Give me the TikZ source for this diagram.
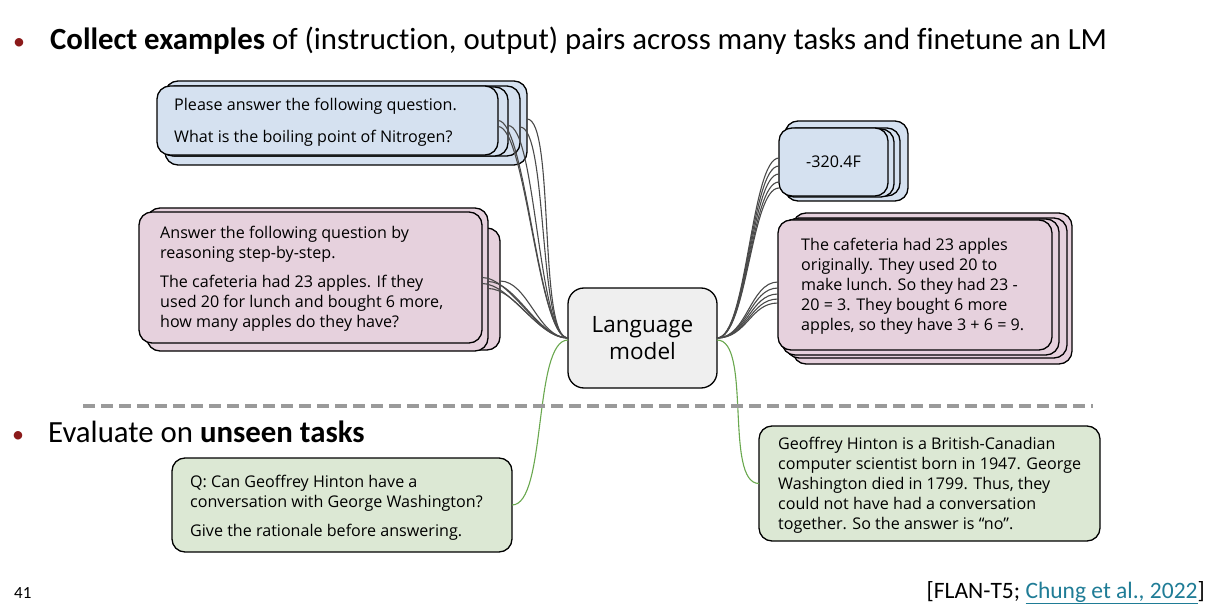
\documentclass[tikz,border=0pt]{standalone}
\usepackage{fontspec}
\setmainfont{Carlito}[Ligatures=NoCommon]
\newfontfamily\boxfont{Open Sans}
\usetikzlibrary{calc}
\definecolor{bulletred}{HTML}{8B1A1A}
\definecolor{bluefill}{HTML}{D5E1F0}
\definecolor{pinkfill}{HTML}{E6D1DD}
\definecolor{greenfill}{HTML}{DCE8D4}
\definecolor{lmfill}{HTML}{EFEFEF}
\definecolor{conngray}{HTML}{4A4A4A}
\definecolor{conngreen}{HTML}{6AA84F}
\definecolor{dashgray}{HTML}{9A9A9A}
\definecolor{linkteal}{HTML}{1F7C96}
\tikzset{
  layer/.style={draw=black, line width=1.3pt, rounded corners=13pt, inner sep=0pt, outer sep=0pt, anchor=north west},
  bluelayer/.style={layer, fill=bluefill},
  pinklayer/.style={layer, fill=pinkfill},
  greenlayer/.style={layer, fill=greenfill},
  boxtext/.style={inner sep=0pt, align=left, anchor=west, font=\boxfont\fontsize{16.1}{20}\selectfont},
  conn/.style={draw=conngray, line width=1.1pt},
  gconn/.style={draw=conngreen, line width=1.1pt},
  slidetext/.style={inner sep=0pt, anchor=base west, font=\fontsize{30.8}{34}\selectfont},
  bulletmark/.style={inner sep=0pt, anchor=base, text=bulletred, font=\fontsize{24}{28}\selectfont},
}
\begin{document}
\begin{tikzpicture}[x=1pt,y=-1pt]
\useasboundingbox (0,0) rectangle (1217,612);
% title bullets
\node[bulletmark] (bul1) at (19,50) {•};
\node[slidetext] (title) at (50,50) {\textbf{Collect examples} of (instruction, output) pairs across many tasks and finetune an LM};
\node[bulletmark] (bul2) at (18,442) {•};
\node[slidetext] (eval) at (48,442) {Evaluate on \textbf{unseen tasks}};

% dashed separator ends
\coordinate (dashL) at (83,406);
\coordinate (dashR) at (1093,406);

% language model
\node[layer, fill=lmfill, rounded corners=16pt, minimum width=149pt, minimum height=100pt] (lm) at (568,288) {};
\node[inner sep=0pt, align=center, font=\boxfont\fontsize{22.5}{27.5}\selectfont] (lmtext) at (lm.center) {Language\\model};

% left blue stack
\node[bluelayer, minimum width=362pt, minimum height=84pt] (b0) at (165,81) {};
\node[bluelayer, minimum width=358pt, minimum height=70pt] (b1) at (162,86) {};
\node[bluelayer, minimum width=348pt, minimum height=69pt] (b2) at (160,87) {};
\node[bluelayer, minimum width=341pt, minimum height=69pt] (b3) at (157,86) {};
\node[boxtext] (btext) at ($(b3.west)+(17,2)$) {Please answer the following question.\\[12pt]What is the boiling point of Nitrogen?};

% left pink stack
\node[pinklayer, minimum width=352pt, minimum height=122pt] (p0) at (148,228) {};
\node[pinklayer, minimum width=341pt, minimum height=143pt] (p1) at (147,208) {};
\node[pinklayer, minimum width=343pt, minimum height=131pt] (p2) at (139,212) {};
\node[boxtext] (ptext) at ($(p2.west)+(21,1.5)$) {Answer the following question by\\reasoning step-by-step.\\[9pt]The cafeteria had 23 apples. If they\\used 20 for lunch and bought 6 more,\\how many apples do they have?};

% right blue stack
\node[bluelayer, minimum width=123pt, minimum height=80pt] (r0) at (785,121) {};
\node[bluelayer, minimum width=117pt, minimum height=68pt] (r1) at (783,128) {};
\node[bluelayer, minimum width=113pt, minimum height=68pt] (r2) at (781,129) {};
\node[bluelayer, minimum width=109pt, minimum height=68pt] (r3) at (779,128) {};
\node[inner sep=0pt, font=\boxfont\fontsize{16.1}{20}\selectfont] (rtext) at (r3.center) {-320.4F};

% right pink stack
\node[pinklayer, minimum width=279pt, minimum height=151pt] (q0) at (793,213) {};
\node[pinklayer, minimum width=281pt, minimum height=140pt] (q1) at (786,218) {};
\node[pinklayer, minimum width=277pt, minimum height=136pt] (q2) at (782,219) {};
\node[pinklayer, minimum width=274pt, minimum height=130pt] (q3) at (778,220) {};
\node[boxtext] (qtext) at ($(q3.west)+(23,1.5)$) {The cafeteria had 23 apples\\originally. They used 20 to\\make lunch. So they had 23 -\\20 = 3. They bought 6 more\\apples, so they have 3 + 6 = 9.};

% green boxes
\node[greenlayer, minimum width=340pt, minimum height=94pt] (g1) at (172,458) {};
\node[boxtext] (g1text) at ($(g1.west)+(18,3)$) {Q: Can Geoffrey Hinton have a\\conversation with George Washington?\\[9pt]Give the rationale before answering.};
\node[greenlayer, minimum width=341pt, minimum height=115pt] (g2) at (759,426) {};
\node[boxtext] (g2text) at ($(g2.west)+(19,2)$) {Geoffrey Hinton is a British-Canadian\\computer scientist born in 1947. George\\Washington died in 1799. Thus, they\\could not have had a conversation\\together. So the answer is “no”.};

% dark connectors left
\foreach \src/\dy in {b3/0, b3/-6, b2/-4, b1/-6, b0/4, p2/0, p2/-6, p1/-2, p1/-9, p0/8} {
  \draw[conn] ([yshift=\dy pt]\src.east) .. controls +(28,0) and +(-30,0) .. (lm.west);
}
% dark connectors right
\foreach \dst/\dy in {r3/4, r3/-4, r3/-12, r3/-20, r3/-26, q3/3, q3/-3, q3/-9, q3/-14, q3/-18} {
  \draw[conn] (lm.east) .. controls +(30,0) and +(-28,0) .. ([yshift=\dy pt]\dst.west);
}
% green connectors
\draw[gconn] ([yshift=-2pt]lm.west) .. controls +(-35,0) and +(35,0) .. (g1.east);
\draw[gconn] ([yshift=-2pt]lm.east) .. controls +(35,0) and +(-35,0) .. (g2.west);

% dashed line
\draw[dashgray, line width=3.5pt, dash pattern=on 12pt off 6pt] (dashL) -- (dashR);

% footer
\node[inner sep=0pt, anchor=base west, font=\fontsize{17}{20}\selectfont] (page) at (14,598) {41};
\node[inner sep=0pt, anchor=base east, font=\fontsize{23.5}{28}\selectfont] (cite) at (1205,598) {[FLAN-T5; \textcolor{linkteal}{\underline{Chung et al., 2022}}]};
\end{tikzpicture}
\end{document}
